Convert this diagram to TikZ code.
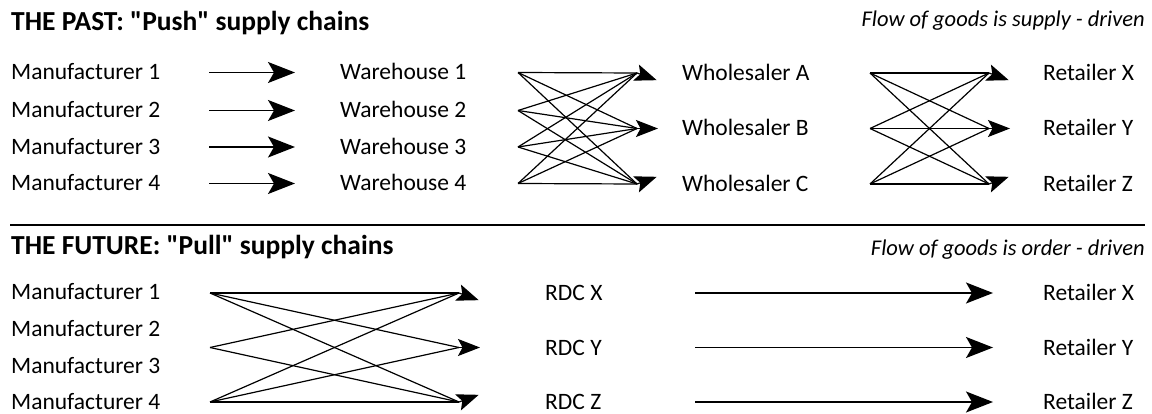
\documentclass[tikz,border=0pt]{standalone}
\usepackage{fontspec}
\setmainfont{Carlito}[Ligatures=TeXOff]
\usetikzlibrary{arrows.meta}
\begin{document}
\begin{tikzpicture}[x=1pt,y=-1pt,
  txt/.style={anchor=base west, inner sep=0pt, text depth=0pt, font=\fontsize{23.5}{28}\selectfont},
  ttl/.style={anchor=base west, inner sep=0pt, font=\fontsize{27.5}{32}\selectfont\bfseries},
  notetxt/.style={anchor=base east, inner sep=0pt, font=\fontsize{22.5}{27}\selectfont\itshape},
  ln/.style={line width=1.2pt},
  bigarr/.style={line width=1.4pt, -{Stealth[length=27pt,width=21pt,inset=6pt]}},
  xhead/.style={line width=1.2pt, -{Stealth[length=22pt,width=17pt,inset=4.5pt]}},
  sepline/.style={line width=2.4pt}]
\useasboundingbox (0,0) rectangle (1152,414);

% ---------- THE PAST ----------
\node[ttl] (t1) at (11,31) {THE PAST: "Push" supply chains};
\node[notetxt] (n1) at (1145,27) {Flow of goods is supply - driven};

\foreach \i/\y in {1/72.5,2/110.5,3/147,4/183.5}{
  \node[txt] (m\i) at (11,\y+7.5) {Manufacturer \i};
  \node[txt] (w\i) at (340,\y+7.5) {Warehouse \i};
  \coordinate (ma\i) at (209,\y);
  \coordinate (mb\i) at (295,\y);
  \coordinate (ws\i) at (518,\y);
  \draw[bigarr] (ma\i) -- (mb\i);
}

\foreach \l/\y/\a in {A/73/20,B/128.5/0,C/184/-20}{
  \node[txt] (h\l) at (682,\y+7.5) {Wholesaler \l};
  \coordinate (hc\l) at (637,\y);
  \path (hc\l) ++(\a:21) coordinate (ht\l);
  \coordinate (hs\l) at (870,\y);
}
\foreach \i in {1,...,4}{
  \foreach \l in {A,B,C}{
    \draw[ln] (ws\i) -- (hc\l);
  }
}
\foreach \l in {A,B,C}{ \draw[xhead] (hc\l) -- (ht\l); }

\foreach \l/\y/\a in {X/73/20,Y/128.5/0,Z/184/-20}{
  \node[txt] (r\l) at (1043,\y+7.5) {Retailer \l};
  \coordinate (rc\l) at (989,\y);
  \path (rc\l) ++(\a:21) coordinate (rt\l);
}
\foreach \s in {A,B,C}{
  \foreach \t in {X,Y,Z}{
    \draw[ln] (hs\s) -- (rc\t);
  }
}
\foreach \t in {X,Y,Z}{ \draw[xhead] (rc\t) -- (rt\t); }

% ---------- separator ----------
\coordinate (sl) at (10,225);
\coordinate (sr) at (1145,225);
\draw[sepline] (sl) -- (sr);

% ---------- THE FUTURE ----------
\node[ttl] (t2) at (11,255) {THE FUTURE: "Pull" supply chains};
\node[notetxt] (n2) at (1145,256) {Flow of goods is order - driven};

\foreach \i/\y in {1/292.5,2/329.5,3/366,4/401.5}{
  \node[txt] (fm\i) at (11,\y+7.5) {Manufacturer \i};
}

\foreach \i/\l/\y/\a in {1/X/293/20,2/Y/347.5/0,3/Z/402/-20}{
  \coordinate (fs\i) at (210,\y);
  \coordinate (fc\i) at (459,\y);
  \path (fc\i) ++(\a:21) coordinate (ft\i);
  \node[txt] (d\l) at (545,\y+7.5) {RDC \l};
  \coordinate (da\l) at (695,\y);
  \coordinate (db\l) at (993,\y);
  \node[txt] (fr\l) at (1043,\y+7.5) {Retailer \l};
  \draw[bigarr] (da\l) -- (db\l);
}
\foreach \s/\t in {1/1,1/2,1/3,2/1,2/3,3/1,3/2,3/3}{
  \draw[ln] (fs\s) -- (fc\t);
}
\foreach \t in {1,2,3}{ \draw[xhead] (fc\t) -- (ft\t); }
\end{tikzpicture}
\end{document}
